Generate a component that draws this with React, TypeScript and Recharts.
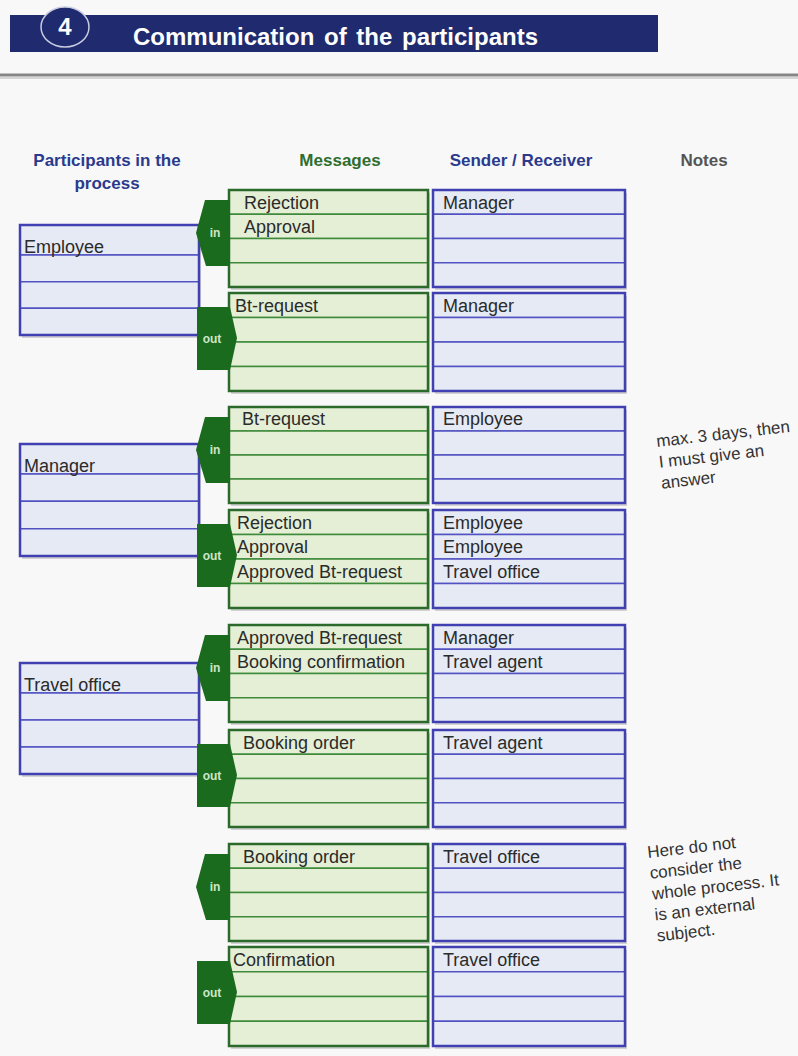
import {
  ComposedChart,
  XAxis,
  YAxis,
  Scatter,
  ReferenceArea,
  ReferenceLine,
} from "recharts";

const W = 798;
const H = 1056;

// ---- content ----
const stepNumber = "4";
const title = "Communication of the participants";
const headerLines = [["Participants in the", "process"], ["Messages"], ["Sender / Receiver"], ["Notes"]];
const participants = ["Employee", "Manager", "Travel office"];
const directions = ["in", "out", "in", "out", "in", "out", "in", "out"];
const messages = [
  ["Rejection", "Approval", "", ""],
  ["Bt-request", "", "", ""],
  ["Bt-request", "", "", ""],
  ["Rejection", "Approval", "Approved Bt-request", ""],
  ["Approved Bt-request", "Booking confirmation", "", ""],
  ["Booking order", "", "", ""],
  ["Booking order", "", "", ""],
  ["Confirmation", "", "", ""],
];
const senders = [
  ["Manager", "", "", ""],
  ["Manager", "", "", ""],
  ["Employee", "", "", ""],
  ["Employee", "Employee", "Travel office", ""],
  ["Manager", "Travel agent", "", ""],
  ["Travel agent", "", "", ""],
  ["Travel office", "", "", ""],
  ["Travel office", "", "", ""],
];
const noteManager = ["max. 3 days, then", "I must give an", "answer"];
const noteExternal = ["Here do not", "consider the", "whole process. It", "is an external", "subject."];

// ---- layout (pixels in the 798 x 1056 frame) ----
const blockTop = [190, 293, 407, 510, 625, 730, 844, 947];
const blockBottom = [287, 391, 503, 608, 722, 827, 941, 1046];
const msgIndent = [15, 6, 13, 8, 8, 14, 14, 4];
const partTop = [225, 444, 663];
const partBottom = [335, 556, 774];
const headerX = [107, 340, 521, 704];

const MSG = { x1: 229, x2: 428 };
const SND = { x1: 433, x2: 625 };
const PART = { x1: 20, x2: 199 };

const GREEN_FILL = "#e4efd6";
const GREEN_LINE = "#3e8a3a";
const GREEN_BORDER = "#2b6a2b";
const BLUE_FILL = "#e5eaf5";
const BLUE_LINE = "#5252c2";
const BLUE_BORDER = "#4040b2";
const NAVY = "#1f2b6e";
const ARROW = "#1b6b1f";
const FONT = "'Liberation Sans', Arial, sans-serif";

type Cell = { x1: number; x2: number; y1: number; y2: number; text: string; indent: number; kind: string };
type Box = { x1: number; x2: number; y1: number; y2: number; kind: string };

const cells: Cell[] = [];
const boxes: Box[] = [];

messages.forEach((rows, b) => {
  const h = (blockBottom[b] - blockTop[b]) / rows.length;
  rows.forEach((t, i) =>
    cells.push({ ...MSG, y1: blockTop[b] + i * h, y2: blockTop[b] + (i + 1) * h, text: t, indent: msgIndent[b], kind: "msg" })
  );
  boxes.push({ ...MSG, y1: blockTop[b], y2: blockBottom[b], kind: "msg" });
});
senders.forEach((rows, b) => {
  const h = (blockBottom[b] - blockTop[b]) / rows.length;
  rows.forEach((t, i) =>
    cells.push({ ...SND, y1: blockTop[b] + i * h, y2: blockTop[b] + (i + 1) * h, text: t, indent: 10, kind: "snd" })
  );
  boxes.push({ ...SND, y1: blockTop[b], y2: blockBottom[b], kind: "snd" });
});
participants.forEach((name, p) => {
  const head = 30;
  const h = (partBottom[p] - partTop[p] - head) / 3;
  cells.push({ ...PART, y1: partTop[p], y2: partTop[p] + head, text: "", indent: 4, kind: "part" });
  for (let i = 0; i < 3; i++) {
    const y1 = partTop[p] + head + i * h;
    cells.push({ ...PART, y1, y2: y1 + h, text: "", indent: 4, kind: "part" });
  }
  // name sits low in the header row
  cells.push({ ...PART, y1: partTop[p] + 7, y2: partTop[p] + head + 7, text: name, indent: 4, kind: "label" });
  boxes.push({ ...PART, y1: partTop[p], y2: partBottom[p], kind: "part" });
});

const arrowPts = directions.map((d, b) => ({
  x: 215,
  y: blockTop[b] + (d === "in" ? 43 : 46),
  dir: d,
}));

const textPts = [
  { x: 65, y: 27, kind: "step", lines: [stepNumber] },
  { x: 133, y: 45, kind: "title", lines: [title] },
  ...headerLines.map((lines, i) => ({ x: headerX[i], y: 166, kind: "header" + i, lines })),
  { x: 657, y: 447, kind: "note", lines: noteManager },
  { x: 648, y: 858, kind: "note", lines: noteExternal },
];

const headerColors = ["#2b3a8c", "#2e6e2e", "#2b3a8c", "#555555"];

const ArrowShape = (props: any) => {
  const { cx, cy, payload } = props;
  const pts =
    payload.dir === "in"
      ? [[-10, -33], [15, -33], [15, 33], [-9, 33], [-19, 0]]
      : [[-18, -32], [15, -32], [22, -1], [15, 31], [-18, 31]];
  const d = pts.map(([px, py]) => `${cx + px},${cy + py}`).join(" ");
  return (
    <g>
      <polygon points={d} fill={ARROW} />
      <text
        x={payload.dir === "in" ? cx : cx - 3}
        y={cy + 4}
        textAnchor="middle"
        fontSize={12}
        fontWeight="bold"
        fill="#cfe6c6"
        fontFamily={FONT}
      >
        {payload.dir}
      </text>
    </g>
  );
};

const TextShape = (props: any) => {
  const { cx, cy, payload } = props;
  if (payload.kind === "step") {
    return (
      <g>
        <ellipse cx={cx} cy={cy} rx={24} ry={20} fill={NAVY} stroke="#c8cce0" strokeWidth={1.5} />
        <text x={cx} y={cy + 8} textAnchor="middle" fontSize={24} fontWeight="bold" fill="#ffffff" fontFamily={FONT}>
          {payload.lines[0]}
        </text>
      </g>
    );
  }
  if (payload.kind === "title") {
    return (
      <text x={cx} y={cy} fontSize={24} fontWeight="bold" fill="#ffffff" fontFamily={FONT} wordSpacing={3}>
        {payload.lines[0]}
      </text>
    );
  }
  if (payload.kind === "note") {
    return (
      <text
        x={cx}
        y={cy}
        fontSize={17}
        fill="#333333"
        fontFamily={FONT}
        transform={`rotate(-6.5 ${cx} ${cy})`}
      >
        {payload.lines.map((l: string, i: number) => (
          <tspan key={i} x={cx} dy={i === 0 ? 0 : 21}>
            {l}
          </tspan>
        ))}
      </text>
    );
  }
  const idx = Number(payload.kind.replace("header", ""));
  return (
    <text x={cx} y={cy} textAnchor="middle" fontSize={17} fontWeight="bold" fill={headerColors[idx]} fontFamily={FONT}>
      {payload.lines.map((l: string, i: number) => (
        <tspan key={i} x={cx} dy={i === 0 ? 0 : 23}>
          {l}
        </tspan>
      ))}
    </text>
  );
};

const fillOf = (k: string) => (k === "msg" ? GREEN_FILL : BLUE_FILL);
const lineOf = (k: string) => (k === "msg" ? GREEN_LINE : BLUE_LINE);
const borderOf = (k: string) => (k === "msg" ? GREEN_BORDER : BLUE_BORDER);

export default function App() {
  return (
    <div style={{ position: "absolute", left: 0, top: 0, width: W, height: H, background: "#f8f8f8", fontFamily: FONT }}>
      <ComposedChart width={W} height={H} margin={{ top: 0, right: 0, bottom: 0, left: 0 }} style={{ fontFamily: FONT }}>
        <XAxis type="number" dataKey="x" domain={[0, W]} hide allowDataOverflow />
        <YAxis type="number" dataKey="y" domain={[0, H]} reversed hide allowDataOverflow />

        {/* title band and rule */}
        <ReferenceArea x1={10} x2={658} y1={15} y2={52} fill={NAVY} fillOpacity={1} ifOverflow="visible" />
        <ReferenceLine y={78} stroke="#d4d4d4" strokeWidth={2} ifOverflow="visible" />
        <ReferenceLine y={75} stroke="#858585" strokeWidth={3} ifOverflow="visible" />

        {/* drop shadows */}
        {boxes.map((b, i) => (
          <ReferenceArea
            key={"sh" + i}
            x1={b.x1 + 2}
            x2={b.x2 + 2}
            y1={b.y1 + 3}
            y2={b.y2 + 3}
            fill="#8c8c8c"
            fillOpacity={0.35}
            ifOverflow="visible"
          />
        ))}

        {/* rows */}
        {cells.map((c, i) =>
          c.kind === "label" ? (
            <ReferenceArea
              key={"c" + i}
              x1={c.x1}
              x2={c.x2}
              y1={c.y1}
              y2={c.y2}
              fill="none"
              fillOpacity={0}
              ifOverflow="visible"
              label={{ value: c.text, position: "insideLeft", offset: c.indent, fill: "#2b2b2b", fontSize: 18 }}
            />
          ) : (
            <ReferenceArea
              key={"c" + i}
              x1={c.x1}
              x2={c.x2}
              y1={c.y1}
              y2={c.y2}
              fill={fillOf(c.kind)}
              fillOpacity={1}
              stroke={lineOf(c.kind)}
              strokeWidth={1.5}
              ifOverflow="visible"
              label={
                c.text
                  ? { value: c.text, position: "insideLeft", offset: c.indent, fill: "#2b2b2b", fontSize: 18 }
                  : undefined
              }
            />
          )
        )}

        {/* outer borders */}
        {boxes.map((b, i) => (
          <ReferenceArea
            key={"b" + i}
            x1={b.x1}
            x2={b.x2}
            y1={b.y1}
            y2={b.y2}
            fill="none"
            fillOpacity={0}
            stroke={borderOf(b.kind)}
            strokeWidth={2.5}
            ifOverflow="visible"
          />
        ))}

        <Scatter data={arrowPts} shape={(p: any) => <ArrowShape {...p} />} isAnimationActive={false} />
        <Scatter data={textPts} shape={(p: any) => <TextShape {...p} />} isAnimationActive={false} />
      </ComposedChart>
    </div>
  );
}
